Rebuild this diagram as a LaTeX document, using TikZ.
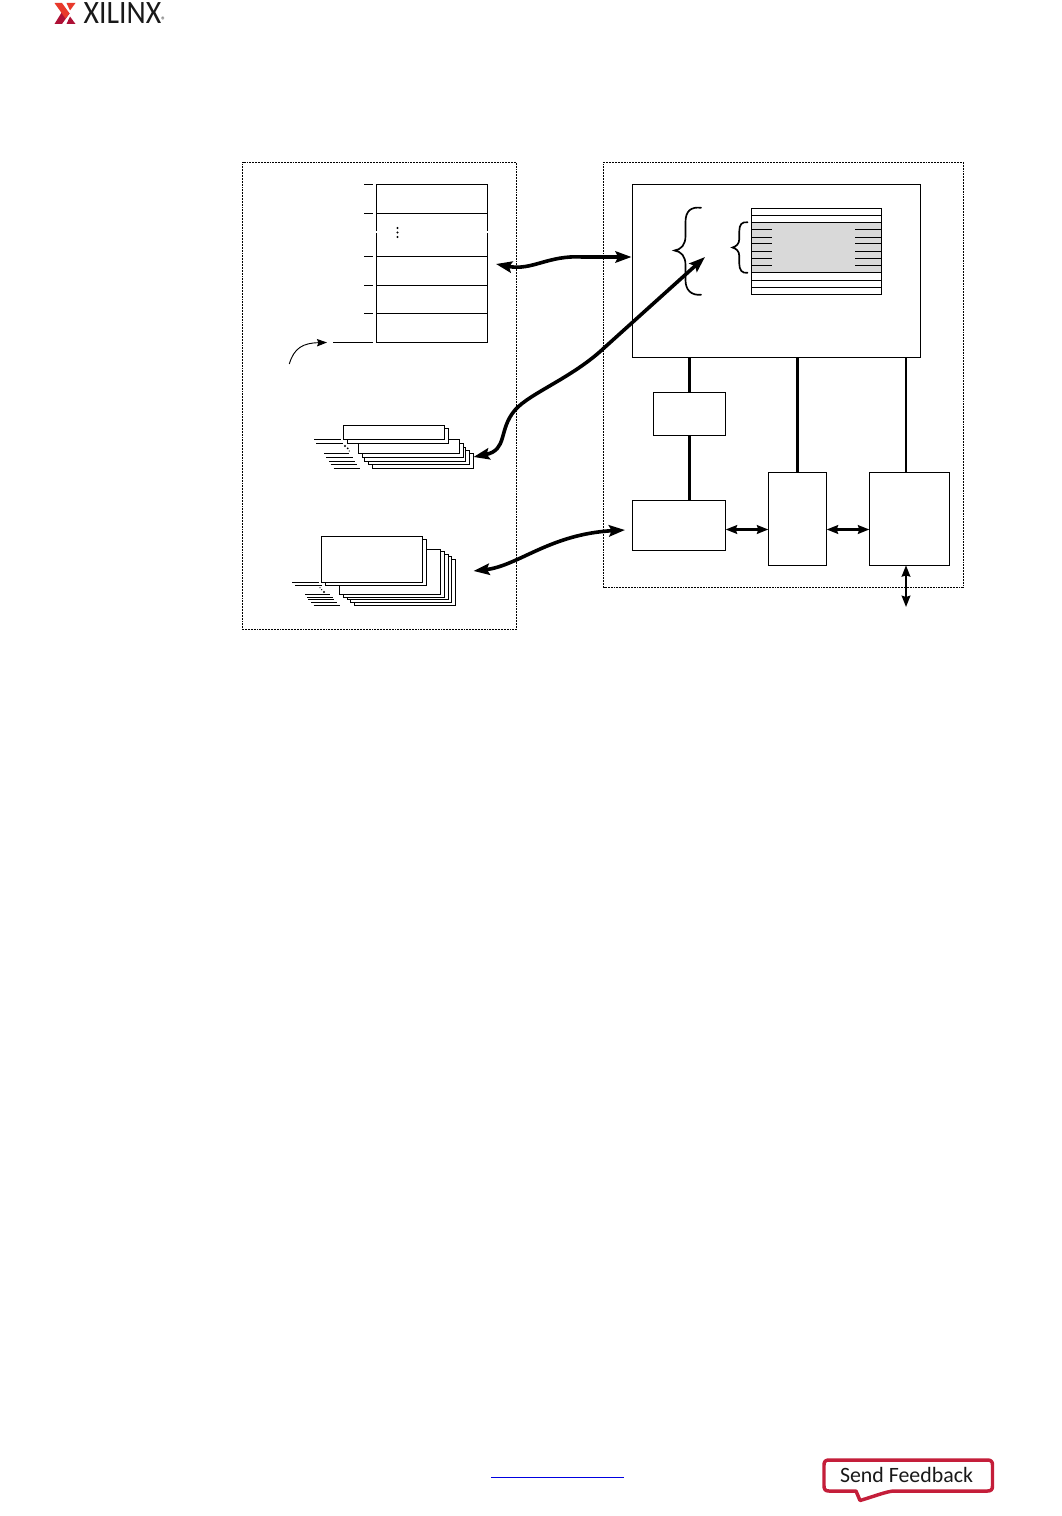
\documentclass[tikz,border=0pt]{standalone}
\usepackage{fontspec}
\setmainfont{Carlito}
\usetikzlibrary{arrows.meta}
\definecolor{xred}{HTML}{E8392B}
\definecolor{xdark}{HTML}{AE1035}
\definecolor{fbred}{HTML}{C41E3A}
\definecolor{grayfill}{HTML}{D9D9D9}
\definecolor{linkblue}{HTML}{0000E0}
\tikzset{
  x=0.75pt,y=-0.75pt,
  boxnode/.style={draw=black,fill=white,line width=0.95pt,inner sep=0pt,outer sep=0pt},
  dotbox/.style={draw=black,line width=0.7pt,dash pattern=on 0.7pt off 0.45pt},
  thin line/.style={line width=0.95pt},
  bigflow/.style={line width=2.7pt,{Stealth[length=12pt,width=8.5pt,inset=2pt]}-{Stealth[length=12pt,width=8.5pt,inset=2pt]}},
  busa/.style={line width=2.3pt},
  busb/.style={line width=1.7pt},
  smallflow/.style={line width=2.2pt,{Stealth[length=8.5pt,width=6.5pt,inset=1pt]}-{Stealth[length=8.5pt,width=6.5pt,inset=1pt]}},
  thinflow/.style={line width=1.6pt,{Stealth[length=8.5pt,width=6.5pt,inset=1pt]}-{Stealth[length=8.5pt,width=6.5pt,inset=1pt]}},
  brace/.style={line width=1.25pt,line cap=round}
}
% \pxbox[options]{name}{x1}{y1}{x2}{y2}
\newcommand\pxbox[6][]{%
  \pgfmathsetmacro\pxw{(#5-#3)*0.75}%
  \pgfmathsetmacro\pxh{(#6-#4)*0.75}%
  \pgfmathsetmacro\pxcx{(#3+#5)/2}%
  \pgfmathsetmacro\pxcy{(#4+#6)/2}%
  \node[boxnode,minimum width=\pxw pt,minimum height=\pxh pt,#1] (#2) at (\pxcx,\pxcy) {};%
}
\begin{document}
\begin{tikzpicture}
\useasboundingbox[fill=white] (0,0) rectangle (1062,1516);

% Logo
\fill[xdark] (54.5,24) -- (62,24) -- (69.5,13.5) -- (65,8) -- (61,13.5) -- cycle;
\fill[xred] (54.5,3) -- (62,3) -- (69.5,13.5) -- (65.5,18.5) -- cycle;
\fill[xred] (66.5,3) -- (75.5,3) -- (70,10.5) -- cycle;
\fill[xdark] (66.5,24) -- (75.5,24) -- (70,16.5) -- cycle;
\node[inner sep=0pt,anchor=west,font=\fontsize{24.5pt}{24.5pt}\selectfont,xscale=0.91,text=black!90] (logotext) at (83.5,13.5) {XILINX};
\node[inner sep=0pt,font=\fontsize{7pt}{7pt}\selectfont,text=black!80] (logomark) at (163.5,20) {®};

% Left memory box
\draw[dotbox] (242.5,162.5) rectangle (516.5,629.5);
\pxbox{stackbox}{376.3}{184.3}{487.3}{342.3}
\draw[thin line] (376.3,213.3) -- (487.3,213.3);
\draw[thin line] (376.3,256.3) -- (487.3,256.3);
\draw[thin line] (376.3,285.3) -- (487.3,285.3);
\draw[thin line] (376.3,313.3) -- (487.3,313.3);
\draw[white,line width=1pt] (376.3,231) -- (376.3,233) (487.3,231) -- (487.3,233);
\draw[thin line] (364,184.3) -- (373,184.3);
\draw[thin line] (364,213.3) -- (373,213.3);
\draw[thin line] (364,256.3) -- (373,256.3);
\draw[thin line] (364,285.3) -- (373,285.3);
\draw[thin line] (364,313.3) -- (373,313.3);
\draw[thin line] (333,342.3) -- (373,342.3);
\fill (397.5,228) circle (1.2) (397.5,232.5) circle (1.2) (397.5,237) circle (1.2);
\coordinate (curvestart) at (289.3,364);
\coordinate (curveend) at (327,342.5);
\draw[line width=0.7pt,-{Stealth[length=7.5pt,width=5.5pt,inset=1pt]}] (curvestart) .. controls (294,348) and (303,343) .. (curveend);

% Small stacked rectangles
\pxbox{sa}{372.3}{453.3}{473.3}{468.7}
\pxbox{sb}{368.3}{450.3}{469.3}{464.7}
\pxbox{sc}{364.3}{447.3}{465.3}{461.3}
\pxbox{sd}{362.3}{443.3}{463.3}{457.3}
\pxbox{se}{358.3}{439.3}{459.3}{453.3}
\pxbox{sf}{347.3}{428.3}{448.3}{443.3}
\pxbox{sg}{343.3}{425.3}{444.3}{439.3}
\draw[thin line] (314.3,439.3) -- (341.3,439.3);
\draw[thin line] (316,443.3) -- (343.3,443.3);
\draw[thin line] (324,453.3) -- (349.3,453.3);
\draw[thin line] (326,457.3) -- (353.3,457.3);
\draw[thin line] (329,461.3) -- (355.3,461.3);
\draw[thin line] (330.7,464.7) -- (357.3,464.7);
\draw[thin line] (333.7,468.7) -- (360.3,468.7);
\fill (345,446) circle (1.1) (347.7,448.3) circle (1) (349.3,451) circle (0.6);

% Large stacked rectangles
\pxbox{la}{354.3}{559.3}{455.3}{605.3}
\pxbox{lb}{350.3}{556.3}{451.3}{602.3}
\pxbox{lc}{347.3}{554.3}{448.3}{599.3}
\pxbox{ld}{343.3}{551.3}{444.3}{597.3}
\pxbox{le}{339.3}{549.3}{440.3}{594.3}
\pxbox{lf}{325.3}{539.3}{426.3}{585.3}
\pxbox{lg}{321.3}{536.3}{422.3}{582.3}
\draw[thin line] (292.3,582.3) -- (319,582.3);
\draw[thin line] (295.3,585.3) -- (322,585.3);
\draw[thin line] (305,594.3) -- (330.3,594.3);
\draw[thin line] (307,597.3) -- (333.3,597.3);
\draw[thin line] (308,599.3) -- (334.3,599.3);
\draw[thin line] (311,602.3) -- (337.3,602.3);
\draw[thin line] (313.7,605.3) -- (340.3,605.3);
\fill (320,587.7) circle (0.6) (321.7,589.7) circle (0.7) (324,592) circle (1.1);

% Right box
\draw[dotbox] (603.5,162.5) rectangle (963.5,587.5);
\pxbox{main}{632.3}{184.3}{920.3}{357.3}
\pxbox{smallbox}{653.3}{392.3}{725.7}{435.3}
\pxbox{boxa}{632.3}{500.3}{725.7}{550.3}
\pxbox{boxb}{768.3}{472.3}{826.7}{565.3}
\pxbox{boxc}{869.3}{472.3}{949.7}{565.3}

% Inner register table
\pxbox{table}{751.3}{208.3}{881.7}{294.3}
\fill[grayfill] (751.3,222.3) rectangle (881.7,272.3);
\draw[thin line] (751.3,215.3) -- (881.7,215.3);
\draw[thin line] (751.3,222.3) -- (881.7,222.3);
\draw[thin line] (751.3,272.3) -- (881.7,272.3);
\draw[thin line] (751.3,280.3) -- (881.7,280.3);
\draw[thin line] (751.3,287.3) -- (881.7,287.3);
\foreach \yy in {229.3,237.3,243.3,251.3,258.3,265.3}{
  \draw[thin line] (751.3,\yy) -- (772,\yy);
  \draw[thin line] (855,\yy) -- (881.7,\yy);
}
\draw[thin line] (751.3,208.3) rectangle (881.7,294.3);

% Braces
\draw[brace] (701,207.8) .. controls (691,206.5) and (685.5,211) .. (685.5,222)
  -- (685.5,236) .. controls (685.5,245) and (681,249.5) .. (674.5,250.5)
  .. controls (681,251.5) and (685.5,256) .. (685.5,265)
  -- (685.5,280) .. controls (685.5,290) and (691,295.5) .. (701,294.8);
\draw[brace] (747.5,222.3) .. controls (742,221.5) and (739.3,224.5) .. (739.3,231)
  -- (739.3,239) .. controls (739.3,244) and (736,246.5) .. (732.5,247.5)
  .. controls (736,248.5) and (739.3,251) .. (739.3,256)
  -- (739.3,264) .. controls (739.3,270) and (742,273.5) .. (747.5,272.8);

% Buses
\coordinate (busthree) at (906,472.3);
\draw[busa] (smallbox.north) -- (smallbox.north |- main.south);
\draw[busa] (smallbox.south) -- (smallbox.south |- boxa.north);
\draw[busa] (boxb.north) -- (boxb.north |- main.south);
\draw[busb] (busthree) -- (busthree |- main.south);

% Horizontal and bottom arrows
\coordinate (hlevel) at (700,529.5);
\coordinate (extern) at (906,607);
\draw[smallflow] (boxa.east |- hlevel) -- (boxb.west |- hlevel);
\draw[smallflow] (boxb.east |- hlevel) -- (boxc.west |- hlevel);
\draw[thinflow] (extern |- boxc.south) -- (extern);

% Wavy flows
\coordinate (fa) at (496,264);
\coordinate (fb) at (631.5,257);
\coordinate (fc) at (473.5,457);
\coordinate (fd) at (705,257);
\coordinate (fe) at (473.5,571);
\coordinate (ff) at (625,530);
\draw[bigflow] (fa) .. controls (532,271) and (548,255) .. (582,257) -- (fb);
\draw[bigflow] (fc) .. controls (508,450) and (498,430) .. (515,410)
  .. controls (530,393) and (572,378) .. (604,348) -- (fd);
\draw[bigflow] (fe) .. controls (518,566) and (550,534) .. (ff);

% Footer
\coordinate (linka) at (491,1477.3);
\coordinate (linkb) at (624,1477.3);
\draw[linkblue,line width=0.75pt] (linka) -- (linkb);
\draw[fbred,line width=2.6pt,line join=round,fill=white]
  (829,1460) -- (987.5,1460) .. controls (991,1460) and (992.5,1461.5) .. (992.5,1465)
  -- (992.5,1486) .. controls (992.5,1489.5) and (991,1491) .. (987.5,1491)
  -- (893,1491) .. controls (885,1492) and (875,1496) .. (860,1500.5)
  -- (856,1491) -- (829,1491) .. controls (825.5,1491) and (824,1489.5) .. (824,1486)
  -- (824,1465) .. controls (824,1461.5) and (825.5,1460) .. (829,1460) -- cycle;
\node[inner sep=0pt,font=\fontsize{16.4pt}{16.4pt}\selectfont,text=black!90] (feedback) at (906.5,1475.3) {Send Feedback};
\end{tikzpicture}
\end{document}
